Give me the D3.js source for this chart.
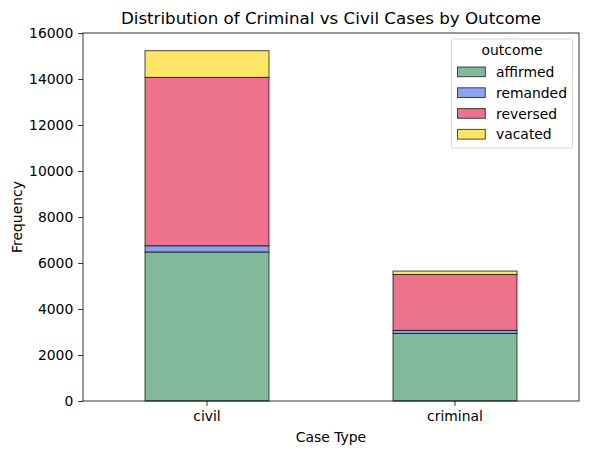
<!DOCTYPE html>
<html>
<head>
<meta charset="utf-8">
<script src="https://cdn.jsdelivr.net/npm/d3@7"></script>
<style>
  body { margin: 0; background: #fff; }
  text { font-family: "DejaVu Sans", sans-serif; fill: #000; }
</style>
</head>
<body>
<div id="chart"></div>
<script>
// data
var caseTypes = ["civil", "criminal"];
var outcomes = ["affirmed", "remanded", "reversed", "vacated"];
var affirmed = [6480, 2940];
var remanded = [270, 130];
var reversed = [7320, 2430];
var vacated = [1160, 150];
var yTicks = [0, 2000, 4000, 6000, 8000, 10000, 12000, 14000, 16000];

var colors = ["#82b99a", "#8aa3ef", "#ec738b", "#fee566"];

var svgWidth = 589;
var svgHeight = 455;
var margin = { top: 33, right: 10, bottom: 54, left: 83 };
var chartWidth = svgWidth - margin.left - margin.right;
var chartHeight = svgHeight - margin.top - margin.bottom;
var fs = 13.9;

var svg = d3.select("#chart").append("svg")
  .attr("width", svgWidth)
  .attr("height", svgHeight);

var chartGroup = svg.append("g")
  .attr("transform", `translate(${margin.left}, ${margin.top})`);

// build rows for the stack
var rows = caseTypes.map(function(c, i) {
  return { type: c, affirmed: affirmed[i], remanded: remanded[i], reversed: reversed[i], vacated: vacated[i] };
});
var stacked = d3.stack().keys(outcomes)(rows);

var xScale = d3.scaleBand()
  .domain(caseTypes)
  .range([0, chartWidth])
  .paddingInner(0.5)
  .paddingOuter(0.25);

var yScale = d3.scaleLinear()
  .domain([0, 16000])
  .range([chartHeight, 0]);

// bars
chartGroup.selectAll("g.layer")
  .data(stacked)
  .enter()
  .append("g")
  .attr("class", "layer")
  .attr("fill", (d, i) => colors[i])
  .selectAll("rect")
  .data(d => d)
  .enter()
  .append("rect")
  .attr("x", d => xScale(d.data.type))
  .attr("width", xScale.bandwidth())
  .attr("y", d => yScale(d[1]))
  .attr("height", d => yScale(d[0]) - yScale(d[1]))
  .attr("stroke", "#000")
  .attr("stroke-opacity", 0.7)
  .attr("stroke-width", 1);

// axes
var leftAxis = d3.axisLeft(yScale).tickValues(yTicks).tickSize(4.86).tickPadding(4.86).tickFormat(d3.format("d"));
var bottomAxis = d3.axisBottom(xScale).tickSize(4.86).tickPadding(4.86);

var yAxis = chartGroup.append("g").call(leftAxis);
var xAxis = chartGroup.append("g")
  .attr("transform", `translate(0, ${chartHeight})`)
  .call(bottomAxis);

[xAxis, yAxis].forEach(function(ax) {
  ax.select(".domain").remove();
  ax.selectAll("text").style("font-size", fs + "px").style("font-family", "DejaVu Sans");
  ax.selectAll("line").attr("stroke", "#000").attr("stroke-width", 0.8);
});

// frame
chartGroup.append("rect")
  .attr("width", chartWidth)
  .attr("height", chartHeight)
  .attr("fill", "none")
  .attr("stroke", "#000")
  .attr("stroke-width", 0.8);

// title and labels
svg.append("text")
  .attr("x", margin.left + chartWidth / 2)
  .attr("y", 24)
  .attr("text-anchor", "middle")
  .style("font-size", "16.7px")
  .text("Distribution of Criminal vs Civil Cases by Outcome");

svg.append("text")
  .attr("x", margin.left + chartWidth / 2)
  .attr("y", 442)
  .attr("text-anchor", "middle")
  .style("font-size", fs + "px")
  .text("Case Type");

svg.append("text")
  .attr("transform", `translate(22, ${margin.top + chartHeight / 2}) rotate(-90)`)
  .attr("text-anchor", "middle")
  .style("font-size", fs + "px")
  .text("Frequency");

// legend
var legend = svg.append("g").attr("transform", "translate(451.5, 39)");
legend.append("rect")
  .attr("width", 121)
  .attr("height", 109)
  .attr("rx", 2)
  .attr("fill", "#fff")
  .attr("fill-opacity", 0.8)
  .attr("stroke", "#ccc")
  .attr("stroke-width", 0.8);

legend.append("text")
  .attr("x", 60.5)
  .attr("y", 16)
  .attr("text-anchor", "middle")
  .style("font-size", fs + "px")
  .text("outcome");

var items = legend.selectAll("g.item")
  .data(outcomes)
  .enter()
  .append("g")
  .attr("class", "item")
  .attr("transform", (d, i) => `translate(0, ${28 + i * 20.8})`);

items.append("rect")
  .attr("x", 6)
  .attr("y", 0)
  .attr("width", 27.8)
  .attr("height", 9.7)
  .attr("fill", (d, i) => colors[i])
  .attr("stroke", "#000")
  .attr("stroke-opacity", 0.7)
  .attr("stroke-width", 1);

items.append("text")
  .attr("x", 44.5)
  .attr("y", 10)
  .style("font-size", fs + "px")
  .text(d => d);
</script>
</body>
</html>
